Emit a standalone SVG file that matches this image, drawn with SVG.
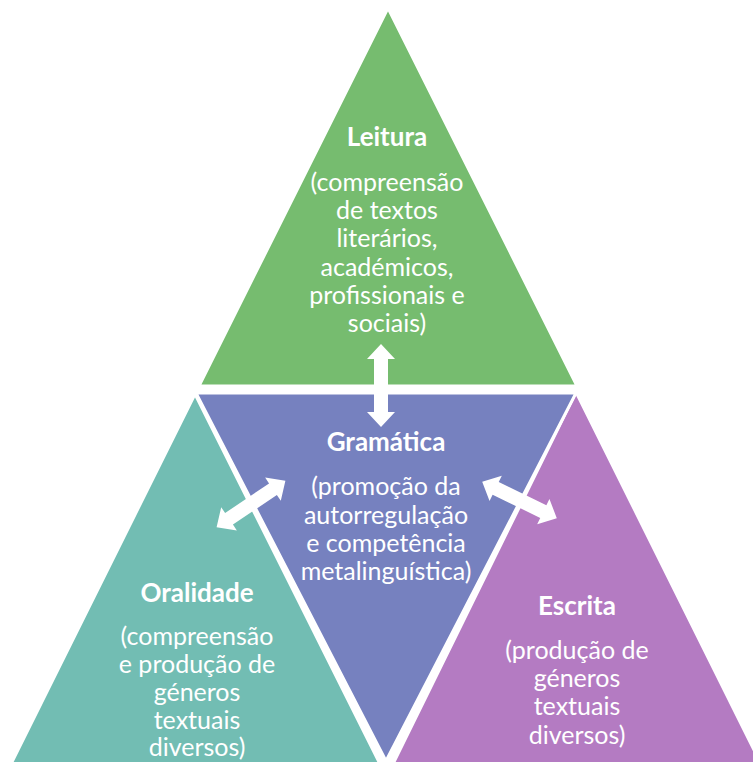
<svg xmlns="http://www.w3.org/2000/svg" width="753" height="762" viewBox="0 0 753 762">
<style>
.tri{stroke:#ffffff;stroke-width:3;stroke-linejoin:miter}
.t{font-family:Lato,"Open Sans","Liberation Sans",sans-serif;fill:#ffffff;text-anchor:middle;font-size:25px}
.h{font-weight:bold;font-size:26px}
.arr{fill:#ffffff}
</style>
<defs>
<path id="dbl" d="M -41.5 0 L -26.5 -14 L -26.5 -7 L 26.5 -7 L 26.5 -14 L 41.5 0 L 26.5 14 L 26.5 7 L -26.5 7 L -26.5 14 Z"/>
</defs>
<rect width="753" height="762" fill="#ffffff"/>
<g id="oralidade">
<polygon class="tri" points="195,394 10,766 381,766" fill="#72BDB3"/>
<text class="t h" x="197" y="602">Oralidade</text>
<text class="t" x="197" y="645">(compreensão</text>
<text class="t" x="197" y="673">e produção de</text>
<text class="t" x="197" y="701">géneros</text>
<text class="t" x="197" y="729">textuais</text>
<text class="t" x="197" y="756">diversos)</text>
</g>
<g id="escrita">
<polygon class="tri" points="576,392 392,766 762,766" fill="#B47BC2"/>
<text class="t h" x="577" y="615">Escrita</text>
<text class="t" x="577" y="659">(produção de</text>
<text class="t" x="577" y="687">géneros</text>
<text class="t" x="577" y="715">textuais</text>
<text class="t" x="577" y="744">diversos)</text>
</g>
<g id="leitura">
<polygon class="tri" points="388,8 199,386 577,386" fill="#76BC6F"/>
<text class="t h" x="387" y="146">Leitura</text>
<text class="t" x="387" y="191">(compreensão</text>
<text class="t" x="387" y="219">de textos</text>
<text class="t" x="387" y="247">literários,</text>
<text class="t" x="387" y="276">académicos,</text>
<text class="t" x="387" y="304">profissionais e</text>
<text class="t" x="387" y="332">sociais)</text>
</g>
<g id="gramatica">
<polygon class="tri" points="196,393 576,393 386,761" fill="#7681BF"/>
<text class="t h" x="386" y="451">Gramática</text>
<text class="t" x="386" y="495">(promoção da</text>
<text class="t" x="386" y="524">autorregulação</text>
<text class="t" x="386" y="552">e competência</text>
<text class="t" x="386" y="580">metalinguística)</text>
</g>
<g id="connectors">
<use href="#dbl" class="arr" transform="translate(381,385.5) rotate(90)"/>
<use href="#dbl" class="arr" transform="translate(251,504) rotate(-34)"/>
<use href="#dbl" class="arr" transform="translate(519.5,500) rotate(26)"/>
</g>
</svg>
